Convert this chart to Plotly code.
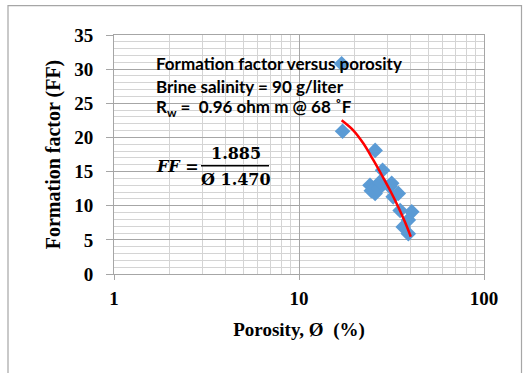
import plotly.graph_objects as go

# Measured samples: porosity (%) and formation factor
porosity = [17.0, 17.2, 25.8, 28.3, 24.2, 24.6, 25.8, 26.9, 27.5, 31.0, 31.7, 32.3, 34.4, 35.2, 40.7, 39.0, 36.6, 39.0]
formation_factor = [30.8, 20.9, 18.1, 15.2, 13.0, 12.2, 11.8, 12.5, 13.5, 12.8, 13.3, 11.3, 11.8, 9.3, 9.1, 7.9, 6.9, 5.9]

# Trend curve through the samples
trend_porosity = [17.0, 19.7, 22.3, 25.2, 28.0, 31.0, 34.4, 37.4, 40.2]
trend_ff = [22.5, 21.0, 19.1, 16.7, 14.5, 12.3, 9.8, 7.6, 5.45]

x_tick_vals = [1, 10, 100]
x_tick_text = ["1", "10", "100"]
y_tick_vals = [0, 5, 10, 15, 20, 25, 30, 35]

W, H = 525, 373
L, R, T, B = 114, 484, 34.5, 274  # plot-area pixel box


def px(x):
    return (x - L) / (R - L)


def py(y):
    return (B - y) / (B - T)


fig = go.Figure()
fig.add_trace(go.Scatter(
    x=porosity, y=formation_factor, mode="markers",
    marker=dict(symbol="diamond", size=12, color="#5B9BD5", line=dict(width=0)),
    showlegend=False, cliponaxis=False,
))
fig.add_trace(go.Scatter(
    x=trend_porosity, y=trend_ff, mode="lines",
    line=dict(color="#FF0000", width=2.5, shape="spline"),
    showlegend=False,
))

major_grid = "#a6a6a6"
minor_grid = "#d4d4d4"
tick_font = dict(family="Liberation Serif", size=19, color="#000000", weight="bold")

fig.update_xaxes(
    type="log", range=[0, 2],
    tickvals=x_tick_vals, ticktext=x_tick_text,
    tickfont=tick_font,
    showgrid=True, gridcolor=major_grid, gridwidth=1,
    minor=dict(dtick="D1", showgrid=True, gridcolor=minor_grid, gridwidth=1, ticks=""),
    ticks="outside", ticklen=5, tickcolor=major_grid, ticklabelstandoff=2,
    showline=True, linecolor=major_grid, mirror=True,
    zeroline=False,
    title=dict(text="Porosity, Ø  (%)",
               font=dict(family="Liberation Serif", size=19, color="#000000", weight="bold"), standoff=14),
)
fig.update_yaxes(
    range=[0, 35],
    tickvals=y_tick_vals,
    tickfont=tick_font,
    showgrid=True, gridcolor=major_grid, gridwidth=1,
    minor=dict(dtick=1, showgrid=True, gridcolor=minor_grid, gridwidth=1, ticks=""),
    ticks="outside", ticklen=7, tickcolor=major_grid, ticklabelstandoff=9,
    showline=True, linecolor=major_grid, mirror=True,
    zeroline=False,
    title=dict(text="Formation factor (FF)",
               font=dict(family="Liberation Serif", size=20, color="#000000", weight="bold"), standoff=8),
)

label_font = dict(family="Lato", size=17, color="#000000", weight="bold")
annotations = [
    dict(text="Formation factor versus porosity", x=px(154), y=py(63), xanchor="left", yanchor="middle"),
    dict(text="Brine salinity = 90 g/liter", x=px(154), y=py(86), xanchor="left", yanchor="middle"),
    dict(text="R<sub>w</sub> =  0.96 ohm m @ 68 ˚F", x=px(154), y=py(108), xanchor="left", yanchor="middle"),
]
for a in annotations:
    a.update(xref="paper", yref="paper", showarrow=False, font=label_font)

eq_font = dict(family="DejaVu Serif", size=16, color="#000000", weight="bold")
annotations += [
    dict(text="<i>FF</i> =", x=px(154), y=py(166), xanchor="left", yanchor="middle",
         xref="paper", yref="paper", showarrow=False, font=eq_font),
    dict(text="1.885", x=px(236), y=py(153), xanchor="center", yanchor="middle",
         xref="paper", yref="paper", showarrow=False, font=eq_font),
    dict(text="Ø 1.470", x=px(236), y=py(179), xanchor="center", yanchor="middle",
         xref="paper", yref="paper", showarrow=False, font=eq_font),
]

shapes = [
    # fraction bar of the equation
    dict(type="line", xref="paper", yref="paper", x0=px(201), x1=px(269), y0=py(165.5), y1=py(165.5),
         line=dict(color="#000000", width=1.5)),
    # chart frame
    dict(type="rect", xref="paper", yref="paper", x0=px(8), x1=px(521.5), y0=py(400), y1=py(5),
         line=dict(color="#a6a6a6", width=1.2), layer="below"),
]

fig.update_layout(
    width=W, height=H,
    margin=dict(l=L, r=W - R, t=T, b=H - B),
    paper_bgcolor="#ffffff", plot_bgcolor="#ffffff",
    annotations=annotations, shapes=shapes,
)

fig.write_html("out.html")
